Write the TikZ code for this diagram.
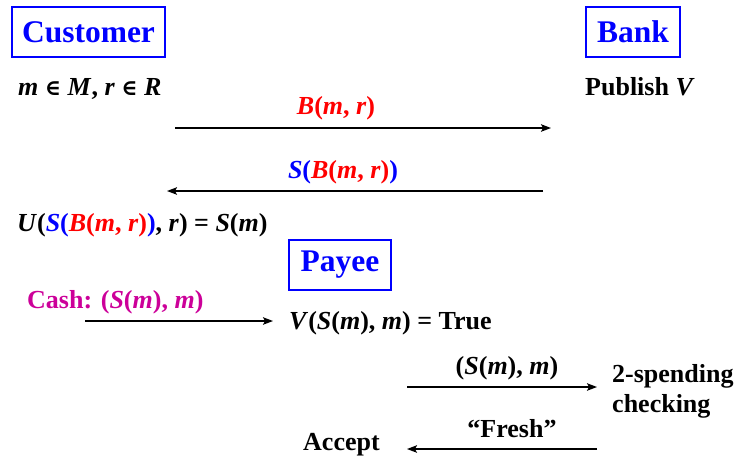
\documentclass[tikz,border=0pt]{standalone}
\usepackage{fontspec}
\setmainfont{Liberation Serif}
\newfontfamily\symfnt{DejaVu Serif}
\usetikzlibrary{arrows.meta}

\definecolor{partyblue}{RGB}{0,0,255}
\definecolor{blindred}{RGB}{255,0,0}
\definecolor{cashpink}{RGB}{204,0,153}

\newcommand{\vr}[1]{\textbf{\textit{#1}}}
\newcommand{\elem}{{\symfnt\fontsize{22}{26}\selectfont ∈}}

\begin{document}
\begin{tikzpicture}[x=1pt,y=-1pt,
  party/.style={draw=partyblue, line width=1.6pt, text=partyblue, inner sep=0pt,
    minimum height=50pt, font=\fontsize{31.5}{34}\selectfont\bfseries},
  txt/.style={inner sep=0pt, anchor=west, font=\fontsize{26}{30}\selectfont\bfseries},
  lbl/.style={inner sep=0pt, font=\fontsize{26}{30}\selectfont\bfseries},
  msg/.style={line width=1.3pt, -{Stealth[length=10pt,width=7.5pt,inset=2pt]}}]
\useasboundingbox (0,0) rectangle (743,459);

% parties
\node[party, minimum width=153pt] (customer) at (88.5,32) {Customer};
\node[party, minimum width=94pt] (bank) at (633,32) {Bank};
\node[party, minimum width=102pt] (payee) at (340,265) {Payee};

% withdrawal
\node[txt] (secret) at (18,89) {\vr{m} \elem{} \vr{M}, \vr{r} \elem{} \vr{R}};
\node[txt] (publish) at (585,87) {Publish \vr{V}};

\coordinate (b1) at (175,128);
\coordinate (b2) at (551,128);
\draw[msg] (b1) -- (b2);
\node[lbl, text=blindred] (blind) at (336,108) {\vr{B}(\vr{m}, \vr{r})};

\coordinate (s1) at (543,191);
\coordinate (s2) at (167,191);
\draw[msg] (s1) -- (s2);
\node[lbl] (sign) at (343,172) {\textcolor{partyblue}{\vr{S}(}\textcolor{blindred}{\vr{B}(\vr{m}, \vr{r})}\textcolor{partyblue}{)}};

\node[txt] (unblind) at (17,225) {\vr{U}(\textcolor{partyblue}{\vr{S}(}\textcolor{blindred}{\vr{B}(\vr{m}, \vr{r})}\textcolor{partyblue}{)}, \vr{r}) = \vr{S}(\vr{m})};

% payment
\node[txt, text=cashpink] (cash) at (27,302) {Cash: (\vr{S}(\vr{m}), \vr{m})};
\coordinate (c1) at (85,321);
\coordinate (c2) at (273,321);
\draw[msg] (c1) -- (c2);
\node[txt] (verify) at (289,323) {\vr{V}(\vr{S}(\vr{m}), \vr{m}) = True};

% deposit
\node[lbl] (coin) at (507,368) {(\vr{S}(\vr{m}), \vr{m})};
\coordinate (d1) at (407,387);
\coordinate (d2) at (597,387);
\draw[msg] (d1) -- (d2);
\node[txt, align=left] (check) at (612,391) {2-spending\\checking};

\node[lbl] (fresh) at (512,429) {“Fresh”};
\coordinate (f1) at (597,449);
\coordinate (f2) at (407,449);
\draw[msg] (f1) -- (f2);
\node[txt] (accept) at (303,445) {Accept};
\end{tikzpicture}
\end{document}
